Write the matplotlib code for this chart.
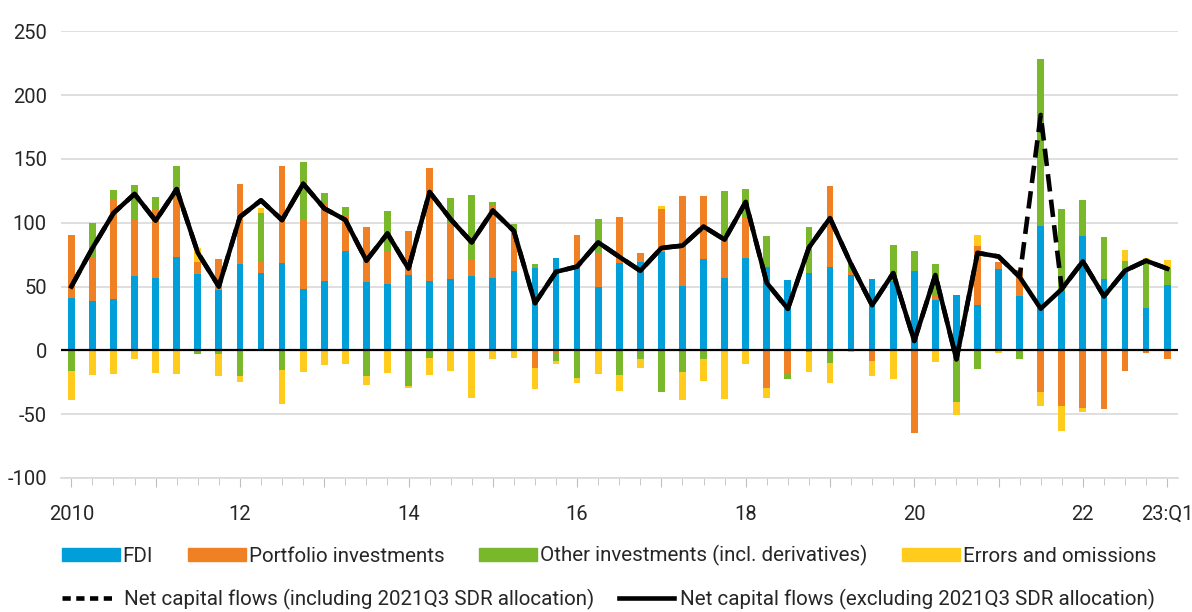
import numpy as np
import matplotlib
matplotlib.use("Agg")
import matplotlib.pyplot as plt
from matplotlib.patches import Patch
from matplotlib.lines import Line2D

plt.rcParams["font.family"] = ["Roboto", "DejaVu Sans"]
plt.rcParams["axes.unicode_minus"] = False

quarters = [f"{y}Q{q}" for y in range(2010, 2024) for q in range(1, 5)][:53]

fdi = [41, 38.5, 40.4, 58, 56.5, 73.2, 59.5, 47, 67.7, 60.5, 68.7, 47.9, 54.7, 77.6, 53.4, 51.6,
       58.9, 54.7, 55.7, 58.6, 56.3, 62.2, 64.8, 72.4, 65.9, 49.5, 68.7, 69.5, 77.1, 50.3, 71.4, 56.5,
       72.1, 65.4, 55, 60.4, 65.1, 59.4, 56, 54.2, 62, 39.3, 43.7, 35.9, 63.8, 42.4, 97.1, 46.4,
       89.3, 55.5, 63.3, 33.3, 50.8]
portfolio = [49, 34.7, 77, 44.3, 54.2, 46.1, 9.5, 24.2, 62.3, 9, 75.8, 55, 59.9, 28.1, 43.5, 26.3,
             34.9, 88.3, 43, 13, 57.3, 31.5, -13.5, -1.8, 24.7, 26.8, 35.9, 6.8, 33.8, 70.8, 49.7, 34.1,
             31.5, -29.2, -17.4, -1.3, 63.8, 1.8, -8.3, 0, -65.1, 3.7, 0, 46.1, 5.2, 20.9, -32.6, -43.5,
             -44.8, -45.6, -16.1, -2.3, -6.5]
other = [-16, 26.8, 8.4, 26.9, 9.6, 25.2, -3.1, -3.1, -20, 37.8, -15.6, 44.5, 8.3, 6.8, -20, 31.5,
         -27.9, -6.3, 20.8, 50, 2.9, 5, 3.1, -6.8, -21.9, 26.6, -19.3, -6.5, -33, -17, -7, 34.4,
         23, 24.4, -5.2, 36.5, -9.9, 7.3, 0, 28.4, 16.1, 24.7, -40.4, -14.3, 0, -6.5, 130.8, 64.5,
         28.4, 33, 6.5, 37.8, 13.8]
errors = [-23, -19.5, -18.5, -6.8, -18, -18.2, 11, -17, -5.2, 4.5, -26.6, -17, -11.7, -10.4, -6.8, -18,
          -1.6, -13, -16.4, -37, -7, -6.3, -17, -2.3, -3.4, -18.2, -12.5, -7, 2.3, -22, -17.4, -38.3,
          -11, -8, 0, -15.4, -15.4, -1.6, -12.2, -22.7, 0, -8.9, -10.2, 8.1, -1.8, 0, -10.9, -19.5,
          -3.4, 0, 9.1, 1, 6]
net_excl = [50, 80, 107.5, 122.5, 101.5, 126.3, 76.5, 50, 104.5, 117.5, 102, 130.5, 111.2, 102.2, 70.3, 91.5,
            64, 124, 102.7, 84.6, 109.5, 93.5, 37, 61.5, 65.6, 84.6, 73.3, 62.3, 80.2, 82, 97, 86.7,
            116.2, 52.8, 32.5, 80.5, 103.6, 67.5, 35.3, 60.5, 7.3, 59, -7, 76.3, 73.5, 57.5, 32.6, 48,
            69.7, 42.3, 62.4, 70.2, 64]
net_incl = list(net_excl)
net_incl[quarters.index("2021Q3")] = 184.4

series = [("FDI", fdi, "#009FDA"),
          ("Portfolio investments", portfolio, "#F08024"),
          ("Other investments (incl. derivatives)", other, "#78B82A"),
          ("Errors and omissions", errors, "#FFCC1D")]

x = np.arange(len(quarters))
fig = plt.figure(figsize=(11.92, 6.12), dpi=100)
ax = fig.add_axes([0.051, 0.219, 0.937, 0.730])

pos_base = np.zeros(len(x))
neg_base = np.zeros(len(x))
for name, vals, col in series:
    v = np.array(vals, dtype=float)
    bottom = np.where(v >= 0, pos_base, neg_base)
    ax.bar(x, v, 0.32, bottom=bottom, color=col, zorder=2, edgecolor="none")
    pos_base += np.where(v >= 0, v, 0)
    neg_base += np.where(v < 0, v, 0)

ax.axhline(0, color="black", lw=1.6, zorder=3)
ax.plot(x, net_incl, color="black", lw=3.3, ls=(0, (3.8, 1.8)), zorder=4)
ax.plot(x, net_excl, color="black", lw=3.3, zorder=5)

ax.set_ylim(-100, 250)
ax.set_xlim(-0.5, 52.5)
ax.set_yticks(np.arange(-100, 251, 50))
ax.yaxis.grid(True, color="#D9D9D9", lw=1.2, zorder=0)
ax.set_axisbelow(True)
for s in ["top", "right", "left"]:
    ax.spines[s].set_visible(False)
ax.spines["bottom"].set_color("#D9D9D9")
ax.spines["bottom"].set_linewidth(1.2)

major = list(range(0, 53, 4))
labels = []
for i in major:
    q = quarters[i]
    if i == 52:
        labels.append("23:Q1")
    elif i == 0:
        labels.append("2010")
    elif int(q[:4]) % 2 == 0:
        labels.append(q[2:4])
    else:
        labels.append("")
ax.set_xticks(major)
ax.set_xticklabels(labels)
ax.set_xticks(x, minor=True)
ax.tick_params(axis="x", which="major", length=6.5, color="#BFBFBF", pad=13, labelsize=14.5, labelcolor="#262626")
ax.tick_params(axis="x", which="minor", length=5, color="#BFBFBF")
ax.tick_params(axis="y", length=0, pad=10, labelsize=14.5, labelcolor="#262626")

h1 = [Patch(color=c, label=n) for n, v, c in series]
leg1 = fig.legend(handles=h1, loc="center left", bbox_to_anchor=(0.052, 0.092), ncol=4,
                  frameon=False, fontsize=14.8, handlelength=2.8, handleheight=0.6,
                  handletextpad=0.15, columnspacing=1.7, borderaxespad=0, borderpad=0)
h2 = [Line2D([], [], color="black", lw=3.3, ls=(0, (1.8, 1.2)),
             label="Net capital flows (including 2021Q3 SDR allocation)"),
      Line2D([], [], color="black", lw=3.3,
             label="Net capital flows (excluding 2021Q3 SDR allocation)")]
leg2 = fig.legend(handles=h2, loc="center left", bbox_to_anchor=(0.052, 0.02), ncol=2,
                  frameon=False, fontsize=14.8, handlelength=2.7,
                  handletextpad=0.3, columnspacing=1.2, borderaxespad=0, borderpad=0)
for t in leg1.get_texts() + leg2.get_texts():
    t.set_color("#262626")

fig.savefig("out.png", dpi=100)
